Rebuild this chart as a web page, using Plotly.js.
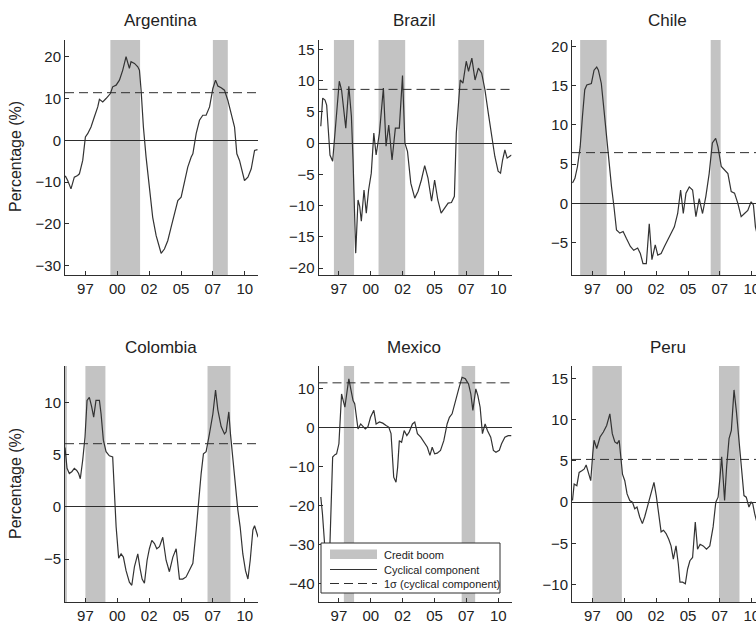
<!DOCTYPE html>
<html><head><meta charset="utf-8">
<script src="https://cdn.plot.ly/plotly-3.0.1.min.js"></script>
<style>html,body{margin:0;padding:0;overflow:hidden;background:#fff}#chart{width:780px;height:624px}</style>
</head><body><div id="chart"></div>
<script>
// ---------------- DATA ----------------
const countries = ["Argentina", "Brazil", "Chile", "Colombia", "Mexico", "Peru"];
const xTickVals = [1997.5, 2000, 2002.5, 2005, 2007.5, 2010];
const xTickText = ["97", "00", "02", "05", "07", "10"];

const argYears = [1995.92,1996.11,1996.37,1996.63,1996.89,1997.03,1997.29,1997.5,1997.68,1997.94,1998.2,1998.47,1998.6,1998.86,1999.12,1999.46,1999.64,1999.91,2000.17,2000.43,2000.69,2000.95,2001.08,2001.35,2001.61,2001.74,2001.87,2002.05,2002.26,2002.52,2002.78,2003.05,2003.31,2003.44,2003.7,2003.96,2004.22,2004.49,2004.75,2005.01,2005.27,2005.53,2005.8,2005.93,2006.19,2006.45,2006.71,2006.97,2007.24,2007.5,2007.71,2007.89,2008.15,2008.41,2008.67,2008.94,2009.2,2009.38,2009.59,2009.72,2009.98,2010.25,2010.51,2010.77,2011.0];
const argValues = [-8.5,-9.6,-11.6,-8.8,-8.4,-8.0,-4.8,0.8,1.6,3.2,5.6,8.0,9.8,9.2,10.0,11.2,12.8,13.2,14.4,16.8,20.0,17.2,18.8,18.4,17.6,16.8,12.0,3.2,-4.0,-12.0,-18.4,-22.8,-26.0,-27.0,-26.0,-24.0,-20.8,-17.6,-14.4,-13.6,-10.0,-6.4,-4.0,-3.2,1.6,4.8,6.0,6.0,8.0,12.4,14.4,13.0,12.6,12.0,9.6,6.4,3.2,-3.2,-4.8,-6.4,-9.6,-8.8,-6.8,-2.4,-2.2];
const argBoomStart = [1999.46, 2007.5];
const argBoomEnd = [2001.79, 2008.67];
const argSigma = 11.4;
const argYTicks = [-30, -20, -10, 0, 10, 20];
const argYRange = [-32.2, 24];

const braYears = [1996.08,1996.15,1996.23,1996.41,1996.54,1996.67,1996.80,1997.01,1997.19,1997.37,1997.53,1997.71,1997.89,1998.04,1998.28,1998.48,1998.61,1998.74,1998.82,1999.0,1999.13,1999.26,1999.47,1999.65,1999.83,2000.04,2000.24,2000.42,2000.68,2000.99,2001.20,2001.41,2001.67,2001.93,2002.24,2002.49,2002.68,2002.88,2003.14,2003.45,2003.71,2003.97,2004.23,2004.49,2004.77,2005.01,2005.26,2005.52,2005.78,2006.07,2006.33,2006.56,2006.71,2006.89,2007.02,2007.23,2007.49,2007.67,2007.93,2008.18,2008.44,2008.70,2008.96,2009.22,2009.47,2009.73,2009.99,2010.18,2010.34,2010.52,2010.70,2011.04];
const braValues = [2.7,5.3,7.2,6.9,6.1,2.1,-1.9,-2.9,1.6,5.9,9.9,8.5,5.3,2.4,9.1,4.3,-2.7,-11.7,-17.6,-9.1,-10.1,-12.5,-7.5,-11.2,-7.5,-4.8,1.6,-1.9,1.6,8.8,-0.5,2.9,-2.7,2.4,2.4,10.8,0,-1.3,-6.4,-8.8,-7.7,-5.9,-3.6,-5.6,-9.3,-5.9,-9.1,-11.2,-10.4,-9.6,-9.5,-8.5,1.6,6.9,10.1,9.6,13.1,11.5,13.6,10.1,12.0,11.2,8.5,4.8,1.1,-2.1,-4.5,-4.8,-2.7,-1.1,-2.4,-1.9];
const braBoomStart = [1997.11, 2000.61, 2006.87];
const braBoomEnd = [1998.69, 2002.70, 2008.89];
const braSigma = 8.6;
const braYTicks = [-20, -15, -10, -5, 0, 5, 10, 15];
const braYRange = [-21.1, 16.5];

const chiYears = [1995.94,1996.13,1996.33,1996.54,1996.72,1996.90,1997.06,1997.24,1997.42,1997.63,1997.84,1997.97,1998.20,1998.41,1998.62,1998.80,1999.0,1999.19,1999.39,1999.65,1999.91,2000.17,2000.48,2000.74,2001.05,2001.26,2001.47,2001.73,2001.96,2002.17,2002.43,2002.63,2002.89,2003.15,2003.41,2003.67,2003.93,2004.19,2004.42,2004.63,2004.84,2005.10,2005.36,2005.62,2005.88,2006.14,2006.40,2006.66,2006.91,2007.17,2007.35,2007.61,2007.87,2008.13,2008.39,2008.65,2008.91,2009.17,2009.43,2009.69,2009.95,2010.13,2010.29,2010.5,2010.75,2011.0];
const chiValues = [2.6,3.2,4.7,7.2,11.1,14.5,15.1,15.2,15.3,17.0,17.4,17.0,15.3,11.9,8.1,5.1,2.1,-0.4,-3.4,-3.8,-3.6,-4.5,-5.5,-6.0,-5.7,-6.4,-7.7,-7.7,-2.6,-7.2,-5.3,-6.6,-6.4,-5.5,-4.7,-3.8,-3.0,-1.3,1.7,-1.3,1.3,2.1,1.7,-1.7,0.6,-1.3,0.9,3.8,7.7,8.3,7.2,4.7,4.3,3.8,1.5,1.3,0,-1.7,-1.3,-0.9,0.2,-0.2,-3.0,-4.5,-3.5,-3.0];
const chiBoomStart = [1996.54, 2006.78];
const chiBoomEnd = [1998.62, 2007.56];
const chiSigma = 6.47;
const chiYTicks = [-5, 0, 5, 10, 15, 20];
const chiYRange = [-9.15, 20.85];

const colYears = [1995.9,1996.06,1996.24,1996.45,1996.63,1996.82,1996.97,1997.10,1997.29,1997.47,1997.63,1997.81,1997.99,1998.15,1998.33,1998.60,1998.73,1998.91,1999.12,1999.38,1999.64,1999.77,1999.91,2000.11,2000.30,2000.48,2000.69,2000.95,2001.14,2001.35,2001.61,2001.79,2001.95,2002.13,2002.34,2002.52,2002.71,2002.92,2003.10,2003.31,2003.57,2003.83,2004.09,2004.36,2004.62,2004.88,2005.14,2005.40,2005.66,2005.93,2006.19,2006.40,2006.58,2006.76,2006.97,2007.23,2007.50,2007.71,2007.89,2008.15,2008.41,2008.54,2008.75,2008.88,2009.07,2009.28,2009.46,2009.64,2009.85,2010.06,2010.25,2010.43,2010.64,2010.77,2010.96,2011.05];
const colValues = [5.7,3.7,3.2,3.4,3.7,3.5,3.2,2.7,4.5,6.7,10.2,10.5,9.6,8.6,10.2,10.2,8.9,6.4,5.3,4.9,4.8,1.9,-1.9,-4.9,-4.5,-4.8,-6.1,-7.2,-7.5,-5.7,-4.5,-5.9,-6.9,-7.3,-5.1,-4.0,-3.2,-3.5,-4.0,-3.8,-2.9,-5.1,-6.2,-4.8,-4.0,-6.9,-6.9,-6.7,-6.1,-5.4,-2.2,1.0,3.2,5.1,5.3,7.0,8.9,11.2,9.3,7.7,7.0,7.2,9.1,7.0,4.5,1.6,-0.3,-1.9,-4.5,-6.1,-6.9,-5.1,-2.2,-1.8,-2.6,-2.9];
const colBoomStart = [1995.9, 1997.5, 2007.08];
const colBoomEnd = [1996.05, 1999.07, 2008.88];
const colSigma = 6.06;
const colYTicks = [-5, 0, 5, 10];
const colYRange = [-9.1, 13.5];

const mexYears = [1996.08,1996.21,1996.36,1996.54,1996.72,1996.88,1997.01,1997.19,1997.32,1997.5,1997.58,1997.71,1997.84,1997.97,1998.15,1998.28,1998.43,1998.61,1998.74,1998.87,1999.0,1999.21,1999.39,1999.57,1999.78,1999.98,2000.24,2000.42,2000.68,2000.94,2001.20,2001.41,2001.59,2001.80,2001.98,2002.11,2002.24,2002.42,2002.62,2002.83,2003.01,2003.27,2003.45,2003.66,2003.92,2004.18,2004.44,2004.64,2004.82,2005.01,2005.21,2005.47,2005.73,2005.99,2006.17,2006.38,2006.64,2006.90,2007.16,2007.42,2007.67,2007.85,2008.01,2008.11,2008.24,2008.40,2008.58,2008.76,2008.97,2009.15,2009.41,2009.62,2009.82,2010.08,2010.26,2010.52,2010.78,2011.04];
const mexValues = [-17.8,-22.1,-29,-40,-38,-22,-7.5,-6.9,-6.7,-4.1,0.2,8.7,7.0,5.3,9.6,12.6,10.0,7.0,6.2,2.7,-0.3,1.0,0.2,-0.3,0.3,2.7,4.5,1.0,1.5,1.2,0.6,0.2,-1.5,-12.7,-14.0,-10.1,-3.3,-3.7,-0.7,-2.0,-1.1,1.0,1.5,-1.5,-2.4,-3.7,-5.0,-7.1,-5.0,-6.7,-6.5,-5.8,-3.3,1.0,2.7,3.6,7.0,10.0,13.0,12.6,11.3,8.7,4.5,7.0,10.0,8.3,5.3,-1.5,1.0,-0.7,-2.4,-5.8,-6.3,-5.8,-4.1,-2.4,-2.0,-2.0];
const mexBoomStart = [1997.89, 2007.13];
const mexBoomEnd = [1998.69, 2008.19];
const mexSigma = 11.57;
const mexYTicks = [-40, -30, -20, -10, 0, 10];
const mexYRange = [-44.8, 15.9];

const perYears = [1995.94,1996.07,1996.28,1996.46,1996.67,1996.85,1997.01,1997.19,1997.37,1997.53,1997.63,1997.84,1998.10,1998.36,1998.62,1998.87,1999.06,1999.26,1999.45,1999.60,1999.70,1999.86,2000.04,2000.22,2000.43,2000.64,2000.82,2001.0,2001.21,2001.42,2001.60,2001.86,2002.12,2002.33,2002.51,2002.72,2002.89,2003.08,2003.28,2003.49,2003.67,2003.85,2004.06,2004.24,2004.37,2004.58,2004.79,2004.97,2005.15,2005.36,2005.57,2005.75,2005.95,2006.19,2006.45,2006.71,2006.97,2007.18,2007.36,2007.51,2007.64,2007.77,2007.87,2008.03,2008.22,2008.40,2008.61,2008.79,2009.0,2009.18,2009.39,2009.57,2009.78,2009.95,2010.08,2010.23,2010.5,2010.75,2011.0];
const perValues = [0.2,2.2,2.0,3.6,3.8,4.0,4.5,3.4,2.6,5.9,7.5,6.5,7.9,8.5,9.3,10.7,8.3,7.3,7.1,7.5,5.5,3.4,2.6,1.0,0.2,0,-0.8,-0.6,-1.8,-2.6,-1.8,-0.4,1.0,2.4,0.8,-1.4,-3.6,-3.4,-3.8,-4.5,-5.3,-6.9,-5.3,-7.5,-9.7,-9.7,-9.9,-8.1,-7.1,-6.7,-2.4,-5.7,-5.1,-5.3,-5.7,-5.3,-3.0,0,0.6,3.0,5.5,2.6,0.2,4.3,7.7,8.7,13.6,11.1,7.5,3.8,0.8,0.6,-0.6,0,-0.2,-1.4,-3,-2.5,-2];
const perBoomStart = [1997.5, 2007.43];
const perBoomEnd = [1999.81, 2009.04];
const perSigma = 5.18;
const perYTicks = [-10, -5, 0, 5, 10, 15];
const perYRange = [-12.1, 16.5];

const legendLabels = ["Credit boom", "Cyclical component", "1\u03c3 (cyclical component)"];
const yAxisLabel = "Percentage (%)";

// ---------------- LAYOUT ----------------
const W = 780, H = 624;
const panels = [
  {years: argYears, values: argValues, bs: argBoomStart, be: argBoomEnd, sigma: argSigma, ticks: argYTicks, range: argYRange},
  {years: braYears, values: braValues, bs: braBoomStart, be: braBoomEnd, sigma: braSigma, ticks: braYTicks, range: braYRange},
  {years: chiYears, values: chiValues, bs: chiBoomStart, be: chiBoomEnd, sigma: chiSigma, ticks: chiYTicks, range: chiYRange},
  {years: colYears, values: colValues, bs: colBoomStart, be: colBoomEnd, sigma: colSigma, ticks: colYTicks, range: colYRange},
  {years: mexYears, values: mexValues, bs: mexBoomStart, be: mexBoomEnd, sigma: mexSigma, ticks: mexYTicks, range: mexYRange},
  {years: perYears, values: perValues, bs: perBoomStart, be: perBoomEnd, sigma: perSigma, ticks: perYTicks, range: perYRange}
];
const colLeft = [65, 318.5, 572], panelW = 193;
const rowTop = [40, 366], rowBottom = [275, 602], titleY = [21, 347];
const xRange = [1995.9, 2011.04];
const px = v => v / W, py = v => 1 - v / H;

const FONT = '"Liberation Sans", Arial, Helvetica, sans-serif';
const DARK = '#2e2e2e', SHADE = '#c3c3c3';

const traces = [], shapes = [], annotations = [];
const layout = {
  width: W, height: H, margin: {l: 0, r: 0, t: 0, b: 0},
  paper_bgcolor: '#fff', plot_bgcolor: 'rgba(0,0,0,0)',
  showlegend: false, font: {family: FONT, color: '#222', size: 15}
};

panels.forEach((p, i) => {
  const r = Math.floor(i / 3), c = i % 3;
  const sfx = i === 0 ? '' : String(i + 1);
  const xa = 'x' + sfx, ya = 'y' + sfx;
  layout['xaxis' + sfx] = {
    domain: [px(colLeft[c]), px(colLeft[c] + panelW)], anchor: ya, range: xRange,
    tickmode: 'array', tickvals: xTickVals, ticktext: xTickText,
    ticks: 'inside', ticklen: 4, tickcolor: DARK, tickwidth: 1,
    showline: true, linecolor: DARK, linewidth: 1, showgrid: false, zeroline: false,
    tickfont: {size: 15, family: FONT, color: '#222'}, fixedrange: true
  };
  layout['yaxis' + sfx] = {
    domain: [py(rowBottom[r]), py(rowTop[r])], anchor: xa, range: p.range,
    tickmode: 'array', tickvals: p.ticks,
    ticks: 'inside', ticklen: 4, tickcolor: DARK, tickwidth: 1,
    showline: true, linecolor: DARK, linewidth: 1, showgrid: false,
    zeroline: true, zerolinecolor: DARK, zerolinewidth: 1,
    tickfont: {size: 15, family: FONT, color: '#222'}, fixedrange: true
  };
  p.bs.forEach((s, k) => {
    shapes.push({type: 'rect', xref: xa, yref: ya + ' domain', x0: s, x1: p.be[k], y0: 0, y1: 1,
      fillcolor: SHADE, line: {width: 0}, layer: 'below'});
  });
  shapes.push({type: 'line', xref: xa + ' domain', yref: ya, x0: 0, x1: 1, y0: p.sigma, y1: p.sigma,
    line: {color: DARK, width: 1, dash: '9px,5px'}, layer: 'above'});
  traces.push({type: 'scatter', mode: 'lines', x: p.years, y: p.values, xaxis: xa, yaxis: ya,
    line: {color: '#333', width: 1.2}, hoverinfo: 'skip', cliponaxis: true});
  annotations.push({text: countries[i], xref: 'paper', yref: 'paper',
    x: px(colLeft[c] + panelW / 2 - 1), y: py(titleY[r]), xanchor: 'center', yanchor: 'middle',
    showarrow: false, font: {size: 17, family: FONT, color: '#222'}});
});

// y-axis labels on left column
[157, 484].forEach(yc => {
  annotations.push({text: yAxisLabel, xref: 'paper', yref: 'paper', x: px(15), y: py(yc),
    xanchor: 'center', yanchor: 'middle', textangle: -90, showarrow: false,
    font: {size: 16, family: FONT, color: '#222'}});
});

// legend drawn inside the Mexico panel
const lg = {x0: 321, x1: 500, y0: 543, y1: 593};
shapes.push({type: 'rect', xref: 'paper', yref: 'paper', x0: px(lg.x0), x1: px(lg.x1), y0: py(lg.y1), y1: py(lg.y0),
  fillcolor: '#fff', line: {color: DARK, width: 1}, layer: 'above'});
shapes.push({type: 'rect', xref: 'paper', yref: 'paper', x0: px(330), x1: px(377), y0: py(559), y1: py(549.5),
  fillcolor: SHADE, line: {width: 0}, layer: 'above'});
shapes.push({type: 'line', xref: 'paper', yref: 'paper', x0: px(330), x1: px(377), y0: py(569.5), y1: py(569.5),
  line: {color: '#333', width: 1.2}, layer: 'above'});
shapes.push({type: 'line', xref: 'paper', yref: 'paper', x0: px(330), x1: px(377), y0: py(583.5), y1: py(583.5),
  line: {color: DARK, width: 1, dash: '9px,5px'}, layer: 'above'});
[554.5, 569.5, 583.5].forEach((yc, k) => {
  annotations.push({text: legendLabels[k], xref: 'paper', yref: 'paper', x: px(382), y: py(yc),
    xanchor: 'left', yanchor: 'middle', showarrow: false, font: {size: 11, family: FONT, color: '#222'}});
});

layout.shapes = shapes;
layout.annotations = annotations;
Plotly.newPlot('chart', traces, layout, {displayModeBar: false, staticPlot: true});
</script>
</body></html>
